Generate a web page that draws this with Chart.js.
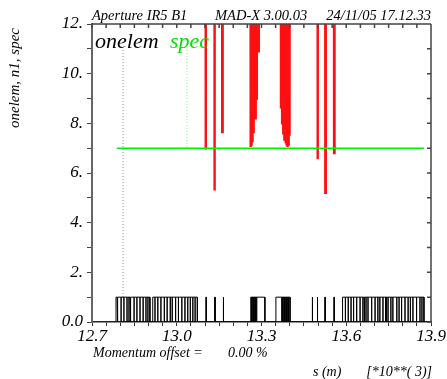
<!DOCTYPE html>
<html>
<head>
<meta charset="utf-8">
<script src="https://cdn.jsdelivr.net/npm/chart.js@4.4.0/dist/chart.umd.min.js"></script>
<style>
  body { margin: 0; background: #fff; }
</style>
</head>
<body>
<canvas id="aperture" width="447" height="379"></canvas>
<script>
// s is in km on the plot ("s (m) [*10**( 3)]")
const xLabelsAt = [12.7, 13.0, 13.3, 13.6, 13.9];
const yLabels = { 0: '0.0', 2: '2.', 4: '4.', 6: '6.', 8: '8.', 10: '10.', 12: '12.' };

// onelem: runs of adjacent elements, listed by their edges
const onelemGroups = [
  [12.785, 12.789, 12.792, 12.803, 12.813, 12.824, 12.831, 12.835, 12.838, 12.849, 12.859, 12.870, 12.881, 12.891, 12.898, 12.905],
  [12.915, 12.923, 12.933, 12.944, 12.956, 12.966, 12.977, 12.984, 12.996, 13.006, 13.018, 13.029, 13.039, 13.048, 13.057, 13.065, 13.073],
  [13.103, 13.105],
  [13.134, 13.136],
  [13.164, 13.166],
  [13.262, 13.265, 13.269, 13.272, 13.276, 13.279, 13.283, 13.312],
  [13.351, 13.372, 13.375, 13.379, 13.382, 13.386, 13.389, 13.393, 13.396, 13.401],
  [13.479, 13.481],
  [13.497, 13.499],
  [13.524, 13.526],
  [13.556, 13.558],
  [13.587, 13.597, 13.607, 13.617, 13.626, 13.637, 13.649, 13.659, 13.663, 13.666, 13.670, 13.677,
   13.690, 13.702, 13.712, 13.719, 13.730, 13.739, 13.742, 13.748, 13.758, 13.765, 13.779, 13.787,
   13.796, 13.808, 13.819, 13.827, 13.836, 13.849, 13.861, 13.868, 13.875]
];

// n1: off scale (well above 12) except at these dips
const n1DipS   = [13.102, 13.134, 13.161,
                  13.261, 13.265, 13.269, 13.273, 13.277, 13.282, 13.289,
                  13.369, 13.373, 13.377, 13.381, 13.385, 13.389, 13.393, 13.397, 13.400,
                  13.499, 13.526, 13.557];
const n1DipMin = [6.95, 5.3, 7.65,
                  7.05, 7.1, 7.25, 7.6, 8.2, 9.0, 10.9,
                  8.6, 8.0, 7.6, 7.35, 7.2, 7.1, 7.05, 7.1, 7.5,
                  6.55, 5.2, 6.8];
const n1High = 60;

// spec
const specS = [12.788, 13.875];
const specV = [7, 7];

// label leader lines
const onelemMarkS = 12.810, onelemMarkV = [10.95, 1];
const specMarkS = 13.036, specMarkV = [10.95, 7];

const onelemPts = [];
onelemGroups.forEach(edges => {
  for (let i = 0; i < edges.length - 1; i++) {
    onelemPts.push({x: edges[i], y: 0}, {x: edges[i], y: 1},
                   {x: edges[i + 1], y: 1}, {x: edges[i + 1], y: 0});
  }
});

const n1Pts = [{x: 12.785, y: n1High}];
n1DipS.forEach((s, i) => {
  n1Pts.push({x: s - 0.0015, y: n1High}, {x: s, y: n1DipMin[i]}, {x: s + 0.0015, y: n1High});
});
n1Pts.push({x: 13.875, y: n1High});

const serif = '"Liberation Serif", "Times New Roman", serif';

const annotate = {
  id: 'annotate',
  afterDraw(chart) {
    const ctx = chart.ctx;
    const {left, right, top, bottom} = chart.chartArea;
    const xs = chart.scales.x, ys = chart.scales.y;
    ctx.save();
    ctx.strokeStyle = '#444';
    ctx.lineWidth = 1.5;
    ctx.beginPath();
    ctx.moveTo(left, top); ctx.lineTo(right, top);
    ctx.moveTo(right, top); ctx.lineTo(right, bottom);
    xs.ticks.forEach(t => {
      const px = xs.getPixelForValue(t.value);
      ctx.moveTo(px, top); ctx.lineTo(px, top + 4);
    });
    ys.ticks.forEach(t => {
      const py = ys.getPixelForValue(t.value);
      ctx.moveTo(right, py); ctx.lineTo(right - 4, py);
    });
    ctx.stroke();

    ctx.fillStyle = '#000';
    ctx.textBaseline = 'alphabetic';
    ctx.font = 'italic 14.5px ' + serif;
    ctx.textAlign = 'left';
    ctx.fillText('Aperture IR5 B1', 92, 20);
    ctx.fillText('MAD-X 3.00.03', 215, 20);
    ctx.textAlign = 'right';
    ctx.fillText('24/11/05 17.12.33', 431, 20);

    ctx.textAlign = 'left';
    ctx.font = 'italic 22px ' + serif;
    ctx.fillText('onelem', 95, 48);
    ctx.fillStyle = '#00e000';
    ctx.fillText('spec', 170, 48);

    ctx.fillStyle = '#000';
    ctx.font = 'italic 14px ' + serif;
    ctx.fillText('Momentum offset =', 93, 357);
    ctx.fillText('0.00 %', 228, 357);
    ctx.fillText('s (m)', 313, 376);
    ctx.textAlign = 'right';
    ctx.fillText('[*10**( 3)]', 432, 376);

    ctx.textAlign = 'left';
    ctx.font = 'italic 15px ' + serif;
    ctx.translate(19, 128);
    ctx.rotate(-Math.PI / 2);
    ctx.fillText('onelem, n1, spec', 0, 0);
    ctx.restore();
  }
};

new Chart(document.getElementById('aperture'), {
  type: 'scatter',
  data: {
    datasets: [
      { label: 'onelem mark', data: onelemMarkV.map(v => ({x: onelemMarkS, y: v})),
        showLine: true, borderColor: '#888', borderWidth: 1, borderDash: [1, 2], pointRadius: 0, order: 4 },
      { label: 'spec mark', data: specMarkV.map(v => ({x: specMarkS, y: v})),
        showLine: true, borderColor: '#8e8', borderWidth: 1, borderDash: [1, 2], pointRadius: 0, order: 4 },
      { label: 'onelem', data: onelemPts, showLine: true, borderColor: '#000', borderWidth: 1,
        pointRadius: 0, order: 3 },
      { label: 'n1', data: n1Pts, showLine: true, borderColor: '#ff1010', borderWidth: 2.4,
        pointRadius: 0, order: 2 },
      { label: 'spec', data: specS.map((s, i) => ({x: s, y: specV[i]})), showLine: true,
        borderColor: '#00f000', borderWidth: 1.5, pointRadius: 0, order: 1 }
    ]
  },
  options: {
    responsive: false,
    animation: false,
    events: [],
    layout: { padding: { top: 24, right: 16, left: 0, bottom: 0 } },
    plugins: { legend: { display: false }, tooltip: { enabled: false } },
    scales: {
      x: {
        type: 'linear', min: 12.7, max: 13.9,
        afterFit: s => { s.height = 57; },
        border: { color: '#222', width: 1.5 },
        grid: { drawOnChartArea: false, tickLength: 4, tickColor: '#333' },
        ticks: {
          stepSize: 0.05, autoSkip: false, maxRotation: 0, padding: 0, color: '#000',
          font: { family: serif, style: 'italic', size: 17 },
          callback: v => {
            const hit = xLabelsAt.find(l => Math.abs(l - v) < 1e-6);
            return hit === undefined ? '' : hit.toFixed(1);
          }
        }
      },
      y: {
        min: 0, max: 12,
        afterFit: s => { s.width = 92; },
        border: { color: '#666', width: 2 },
        grid: { drawOnChartArea: false, tickLength: 5, tickColor: '#444' },
        ticks: {
          stepSize: 1, autoSkip: false, padding: 4, color: '#000',
          font: { family: serif, style: 'italic', size: 17 },
          callback: v => yLabels[v] || ''
        }
      }
    }
  },
  plugins: [annotate]
});
</script>
</body>
</html>
